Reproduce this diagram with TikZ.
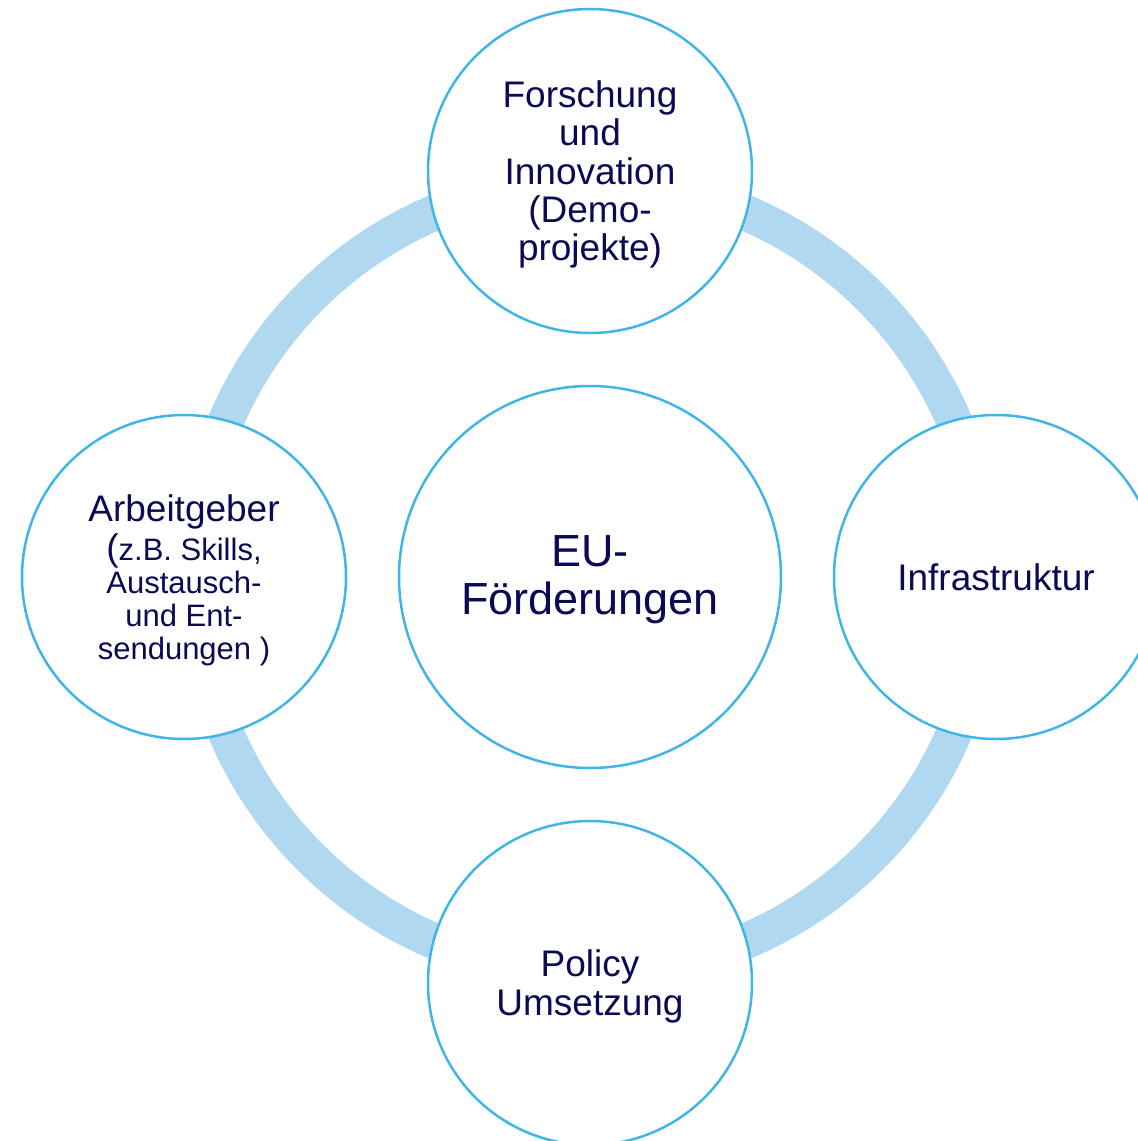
\documentclass[tikz,border=0pt]{standalone}
\usepackage{fontspec}
\setmainfont{Liberation Sans}
\definecolor{ringblue}{HTML}{B0D9F1}
\definecolor{edgeblue}{HTML}{41B6E6}
\definecolor{navy}{HTML}{0A0A55}
\begin{document}
\begin{tikzpicture}[x=1pt,y=-1pt,
  bubble/.style={circle, draw=edgeblue, line width=2.5pt, fill=white, minimum size=324pt, inner sep=0pt},
  hub/.style={circle, draw=edgeblue, line width=2.5pt, fill=white, minimum size=382pt, inner sep=0pt},
  txt/.style={text=navy, align=center, inner sep=0pt, font=\fontsize{37}{38.3}\selectfont},
  ring/.style={draw=ringblue, line width=36pt}]
\useasboundingbox (0,0) rectangle (1138,1141);
\clip (0,0) rectangle (1138,1141);
\coordinate (c) at (590,577);
\draw[ring] (c) circle[radius=396pt];
\node[hub] (eu) at (c) {};
\node[bubble] (top) at (590,171) {};
\node[bubble] (left) at (184,577) {};
\node[bubble] (right) at (996,577) {};
\node[bubble] (bottom) at (590,983) {};
\node[txt, font=\fontsize{45}{48}\selectfont] (eutxt) at (590,580) {EU-\\Förderungen};
\node[txt] (toptxt) at (590,174.5) {Forschung\\und\\Innovation\\(Demo-\\projekte)};
\node[txt, font=\fontsize{31}{33}\selectfont] (lefttxt) at (184,580.5) {{\fontsize{37}{38}\selectfont Arbeitgeber}\\[4pt]{\fontsize{37}{33}\selectfont(}z.B. Skills,\\Austausch-\\und Ent-\\sendungen )};
\node[txt] (righttxt) at (996,577) {Infrastruktur};
\node[txt] (bottomtxt) at (590,986.5) {Policy\\Umsetzung};
\end{tikzpicture}
\end{document}
